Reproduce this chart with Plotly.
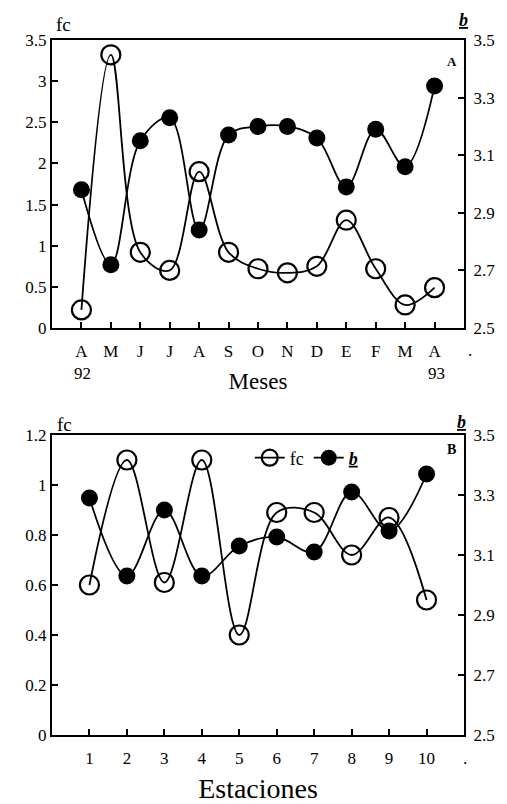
import plotly.graph_objects as go

# ---------------- data ----------------
meses = ["A", "M", "J", "J", "A", "S", "O", "N", "D", "E", "F", "M", "A"]
fc_meses = [0.22, 3.32, 0.92, 0.70, 1.90, 0.92, 0.72, 0.67, 0.75, 1.31, 0.72, 0.28, 0.49]
b_meses = [2.98, 2.72, 3.15, 3.23, 2.84, 3.17, 3.20, 3.20, 3.16, 2.99, 3.19, 3.06, 3.34]

estaciones = [1, 2, 3, 4, 5, 6, 7, 8, 9, 10]
fc_est = [0.60, 1.10, 0.61, 1.10, 0.40, 0.89, 0.89, 0.72, 0.87, 0.54]
b_est = [3.29, 3.03, 3.25, 3.03, 3.13, 3.16, 3.11, 3.31, 3.18, 3.37]

left_ticks_top = [0, 0.5, 1, 1.5, 2, 2.5, 3, 3.5]
left_ticks_bot = [0, 0.2, 0.4, 0.6, 0.8, 1.0, 1.2]
right_ticks = [2.5, 2.7, 2.9, 3.1, 3.3, 3.5]

FONT = "Liberation Serif"
W, H = 507, 804
ML, MR, MT, MB = 52, 43, 40, 69
PH = H - MT - MB

def py(pix):
    return (H - MB - pix) / PH

idx = list(range(len(meses)))

fig = go.Figure()

line = dict(color="black", width=1.8, shape="spline", smoothing=1.0)
open_m = dict(symbol="circle-open", size=19, color="black", line=dict(width=2.2, color="black"))
fill_m = dict(symbol="circle", size=17, color="black")

fig.add_trace(go.Scatter(x=idx, y=fc_meses, mode="lines+markers", line=line,
                         marker=open_m, xaxis="x", yaxis="y", showlegend=False))
fig.add_trace(go.Scatter(x=idx, y=b_meses, mode="lines+markers", line=line,
                         marker=fill_m, xaxis="x", yaxis="y2", showlegend=False))
fig.add_trace(go.Scatter(x=estaciones, y=fc_est, mode="lines+markers", line=line,
                         marker=open_m, xaxis="x2", yaxis="y3", name="fc"))
fig.add_trace(go.Scatter(x=estaciones, y=b_est, mode="lines+markers", line=line,
                         marker=fill_m, xaxis="x2", yaxis="y4", name="<b><i><u>b</u></i></b>"))

ax_common = dict(showline=True, linecolor="black", linewidth=2, ticks="inside",
                 ticklen=6, tickwidth=2, tickcolor="black", showgrid=False,
                 zeroline=False, automargin=False,
                 tickfont=dict(family=FONT, size=17, color="black"))

top_dom = [py(328), 1.0]
bot_dom = [0.0, py(435)]

fig.update_layout(
    width=W, height=H,
    margin=dict(l=ML, r=MR, t=MT, b=MB),
    paper_bgcolor="white", plot_bgcolor="white",
    font=dict(family=FONT, color="black"),
    xaxis=dict(ax_common, domain=[0, 1], anchor="y", range=[-1, 13],
               tickmode="array", tickvals=idx, ticktext=meses, mirror=True,
               ticklabelstandoff=7,
               title=dict(text="Meses", font=dict(family=FONT, size=23), standoff=12)),
    yaxis=dict(ax_common, domain=top_dom, anchor="x", range=[0, 3.5],
               tickvals=left_ticks_top, ticktext=[f"{v:g}" for v in left_ticks_top]),
    yaxis2=dict(ax_common, domain=top_dom, anchor="x", overlaying="y", side="right",
                range=[2.5, 3.5], tickvals=right_ticks, ticklabelstandoff=4,
                ticktext=[f"{v:.1f}" for v in right_ticks]),
    xaxis2=dict(ax_common, domain=[0, 1], anchor="y3", range=[0, 11],
                tickvals=estaciones, mirror=True, ticklabelstandoff=7,
                title=dict(text="Estaciones", font=dict(family=FONT, size=28), standoff=14)),
    yaxis3=dict(ax_common, domain=bot_dom, anchor="x2", range=[0, 1.2],
                tickvals=left_ticks_bot, ticktext=[f"{v:g}" for v in left_ticks_bot]),
    yaxis4=dict(ax_common, domain=bot_dom, anchor="x2", overlaying="y3", side="right",
                range=[2.5, 3.5], tickvals=right_ticks, ticklabelstandoff=4,
                ticktext=[f"{v:.1f}" for v in right_ticks]),
    legend=dict(orientation="h", x=0.48, y=py(458), xanchor="left", yanchor="middle",
                font=dict(family=FONT, size=18, color="black"), bgcolor="rgba(0,0,0,0)",
                itemwidth=30, tracegroupgap=0),
)

ann = []
def add_text(x, y, text, size):
    ann.append(dict(x=(x - ML) / (W - ML - MR), y=py(y), xref="paper", yref="paper",
                    xanchor="center", yanchor="middle",
                    text=text, showarrow=False, font=dict(family=FONT, size=size, color="black")))

add_text(63, 24, "fc", 19)
add_text(64, 424, "fc", 19)
add_text(463, 20, "<b><i><u>b</u></i></b>", 18)
add_text(461, 422, "<b><i><u>b</u></i></b>", 18)
add_text(452, 62, "<b>A</b>", 13)
add_text(451, 449, "<b>B</b>", 14)
add_text(82, 373, "92", 17)
add_text(436, 373, "93", 17)
add_text(470, 350, ".", 17)
add_text(465, 758, ".", 17)
fig.update_layout(annotations=ann)

fig.write_html("out.html")
